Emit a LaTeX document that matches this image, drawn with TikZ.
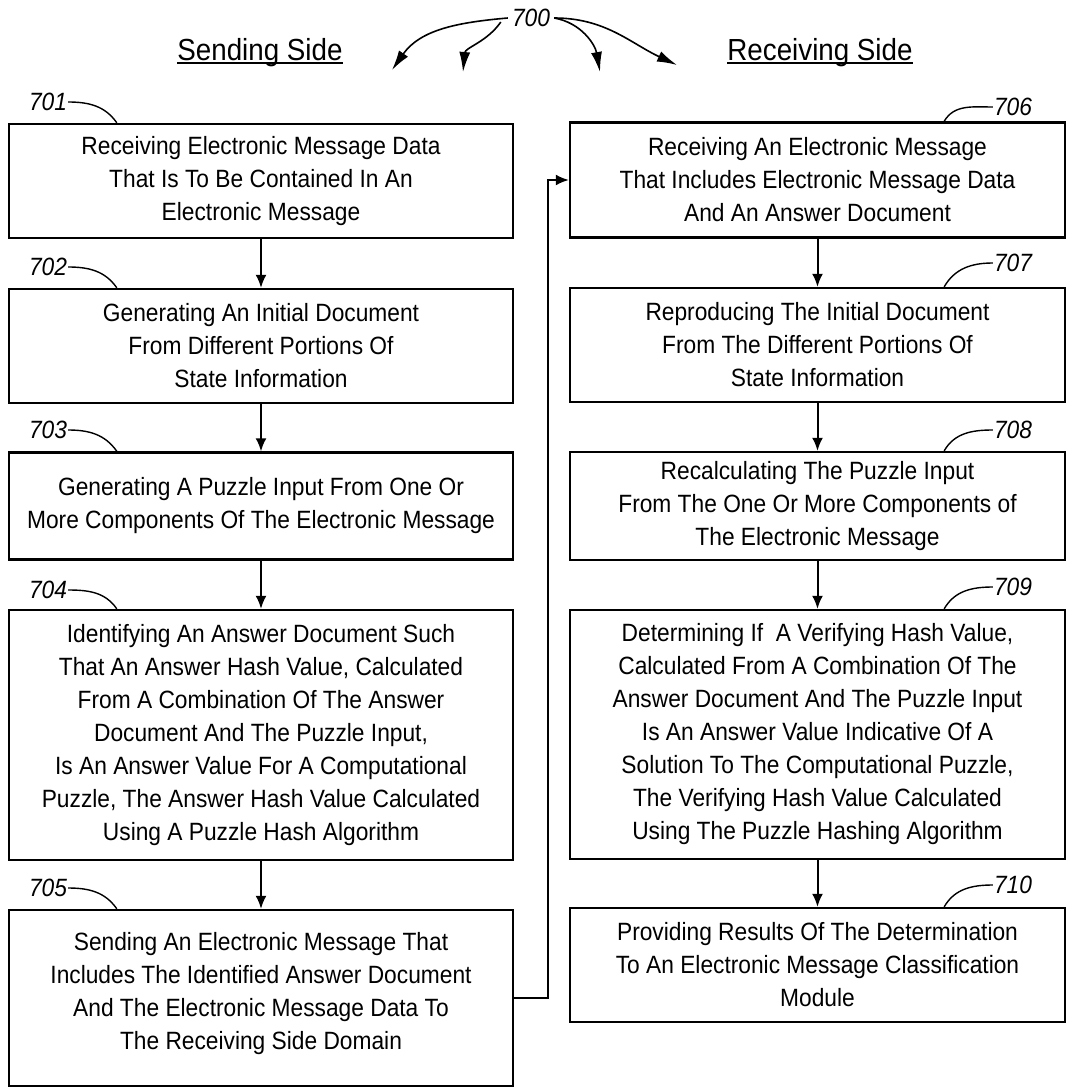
\documentclass[tikz,border=0pt]{standalone}
\usepackage{fontspec}
\setmainfont{Liberation Sans}[FakeStretch=0.91]
\usetikzlibrary{
    arrows.meta,
    positioning
}
\tikzset{
    % Box styles
    flow box/.style={
        draw,
        line width=2.4pt,
        rectangle,
        inner sep=2pt,
        align=center,
        font=\fontsize{25}{33}\selectfont
    },
    left box/.style={
        flow box,
        minimum width=504pt
    },
    right box/.style={
        flow box,
        minimum width=495pt
    },
    % Text styles
    ref num/.style={
        inner sep=1pt,
        font=\itshape\fontsize{25}{28}\selectfont
    },
    side title/.style={
        inner sep=0pt,
        anchor=base,
        font=\fontsize{30.5}{34}\selectfont
    },
    % Arrow styles
    flow arrow/.style={
        -{Latex[length=13pt,width=11pt]},
        line width=2pt
    },
    lead line/.style={
        line width=1.4pt
    },
    ref arrow/.style={
        -{Latex[length=20pt,width=11pt]},
        line width=1.6pt
    }
}

\begin{document}
\begin{tikzpicture}[x=1pt, y=1pt]
        \useasboundingbox (0,0) rectangle (1067,-1090);

        % Side titles
        \node[side title] (send) at (260,-60) {Sending Side};
        \node[side title] (recv) at (820,-60) {Receiving Side};
        \draw[line width=1.6pt] ([yshift=-3pt]send.base west) -- ([yshift=-3pt]send.base east);
        \draw[line width=1.6pt] ([yshift=-3pt]recv.base west) -- ([yshift=-3pt]recv.base east);

        % Sending side
        \node[left box, minimum height=114pt] (s701) at (261,-181)
            {Receiving Electronic Message Data\\That Is To Be Contained In An\\Electronic Message};
        \node[left box, minimum height=114pt] (s702) at (261,-346)
            {Generating An Initial Document\\From Different Portions Of\\State Information};
        \node[left box, minimum height=107pt] (s703) at (261,-506)
            {Generating A Puzzle Input From One Or\\More Components Of The Electronic Message};
        \node[left box, minimum height=250pt] (s704) at (261,-735)
            {Identifying An Answer Document Such\\That An Answer Hash Value, Calculated\\From A Combination Of The Answer\\Document And The Puzzle Input,\\Is An Answer Value For A Computational\\Puzzle, The Answer Hash Value Calculated\\Using A Puzzle Hash Algorithm};
        \node[left box, minimum height=176pt] (s705) at (261,-998)
            {Sending An Electronic Message That\\Includes The Identified Answer Document\\And The Electronic Message Data To\\The Receiving Side Domain\\[-19pt]};

        % Receiving side
        \node[right box, minimum height=115pt] (r706) at (817.5,-180)
            {Receiving An Electronic Message\\That Includes Electronic Message Data\\And An Answer Document};
        \node[right box, minimum height=114pt] (r707) at (817.5,-345)
            {Reproducing The Initial Document\\From The Different Portions Of\\State Information};
        \node[right box, minimum height=108pt] (r708) at (817.5,-506)
            {Recalculating The Puzzle Input\\From The One Or More Components of\\The Electronic Message};
        \node[right box, minimum height=249pt] (r709) at (817.5,-734.5)
            {Determining If\ \ A Verifying Hash Value,\\Calculated From A Combination Of The\\Answer Document And The Puzzle Input\\Is An Answer Value Indicative Of A\\Solution To The Computational Puzzle,\\The Verifying Hash Value Calculated\\Using The Puzzle Hashing Algorithm};
        \node[right box, minimum height=114pt] (r710) at (817.5,-965)
            {Providing Results Of The Determination\\To An Electronic Message Classification\\Module};

        % Reference numerals
        \node[ref num] (l700) at (531,-18) {700};
        \foreach \n/\y in {701/-102,702/-267,703/-430,704/-590,705/-888} {
            \node[ref num] (l\n) at (48,\y) {\n};
            \draw[lead line] (l\n.east) to[out=0,in=125] ([xshift=109pt]s\n.north west);
        }
        \foreach \n/\y in {706/-107,707/-263,708/-430,709/-587,710/-885} {
            \node[ref num] (l\n) at (1013,\y) {\n};
            \draw[lead line] (l\n.west) to[out=180,in=60] ([xshift=-122pt]r\n.north east);
        }

        % Arrows from 700
        \coordinate (tip1) at (392,-70);
        \coordinate (tip2) at (463,-72);
        \coordinate (tip3) at (600,-72);
        \coordinate (tip4) at (677,-65);
        \draw[ref arrow] ([xshift=-3pt]l700.west) to[out=185,in=55] (tip1);
        \draw[ref arrow] ([xshift=-10pt,yshift=-4pt]l700.west) to[out=235,in=85] (tip2);
        \draw[ref arrow] ([xshift=3pt]l700.east) to[out=-10,in=100] (tip3);
        \draw[ref arrow] ([xshift=3pt]l700.east) to[out=0,in=155] (tip4);

        % Connections
        \foreach \a/\b in {s701/s702,s702/s703,s703/s704,s704/s705,r706/r707,r707/r708,r708/r709,r709/r710} {
            \draw[flow arrow] (\a.south) -- (\b.north);
        }
        \draw[flow arrow] (s705.east) -- ++(34,0) |- (r706.west);
    \end{tikzpicture}
\end{document}
